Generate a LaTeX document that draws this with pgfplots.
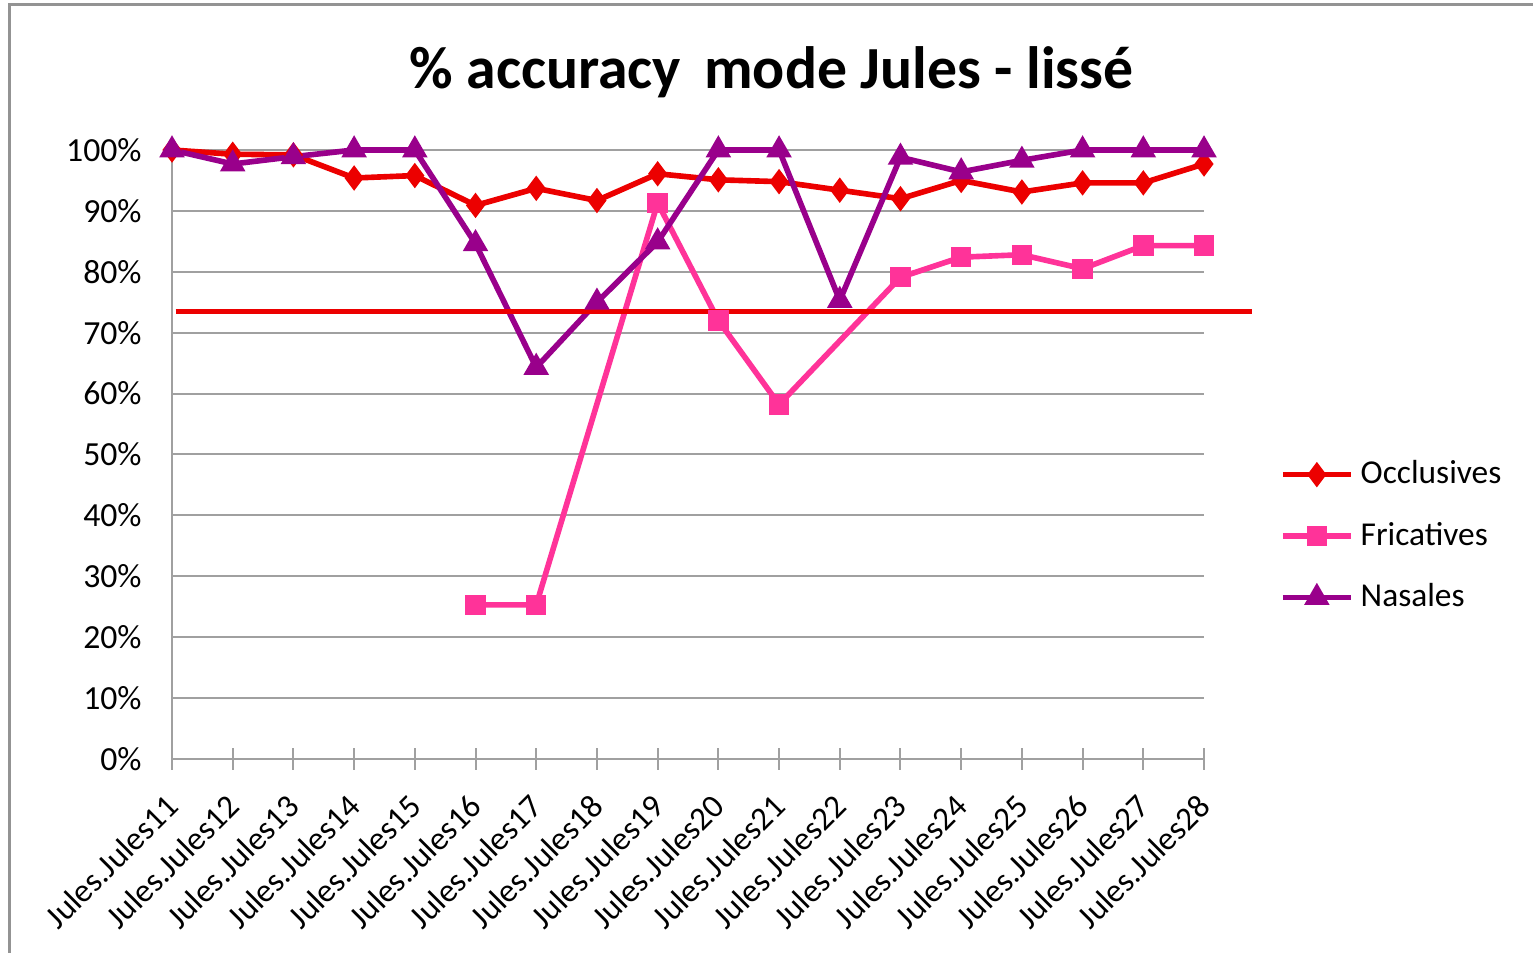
\documentclass[border=0pt]{standalone}
\usepackage{pgfplots}
\pgfplotsset{compat=1.18}
\usepackage{fontspec}
\setmainfont{Carlito}

\definecolor{occl}{RGB}{236,0,0}
\definecolor{fric}{RGB}{255,51,153}
\definecolor{nasa}{RGB}{153,0,139}
\definecolor{gridc}{RGB}{160,160,160}

\begin{document}
\begin{tikzpicture}
\begin{axis}[
    name=ax, at={(0,0)}, anchor=south west,
    scale only axis,
    width=103.2mm, height=60.9mm,
    xmin=0, xmax=17, ymin=0, ymax=100,
    clip=false,
    axis x line=bottom, axis y line=left,
    axis line style={gridc, line width=0.2mm, -},
    xtick={0,...,17},
    xticklabels={Jules.Jules11,Jules.Jules12,Jules.Jules13,Jules.Jules14,Jules.Jules15,Jules.Jules16,Jules.Jules17,Jules.Jules18,Jules.Jules19,Jules.Jules20,Jules.Jules21,Jules.Jules22,Jules.Jules23,Jules.Jules24,Jules.Jules25,Jules.Jules26,Jules.Jules27,Jules.Jules28},
    xticklabel style={yshift=-2.2mm, xshift=0.9mm, rotate=45, anchor=east, font=\fontsize{9.4}{11}\selectfont},
    xtick align=center,
    x tick style={gridc, line width=0.2mm},
    ytick={0,10,...,100},
    yticklabel={\pgfmathprintnumber{\tick}\%},
    yticklabel style={font=\fontsize{9.6}{10}\selectfont, xshift=-0.7mm},
    y tick style={draw=none},
    major tick length=2.2mm,
    ymajorgrids,
    grid style={gridc, line width=0.2mm},
    /pgf/number format/assume math mode=true,
    legend style={at={(1.073,0.366)}, anchor=west, draw=none, fill=none,
        font=\fontsize{9.5}{11}\selectfont, row sep=1.9mm, inner sep=0pt},
    legend cell align=left,
    legend image code/.code={\draw[mark repeat=2,mark phase=2,#1] plot coordinates {(0mm,0mm) (3.4mm,0mm) (6.8mm,0mm)};},
]
\addplot[occl, line width=1.6pt, mark=diamond*, mark size=2.3pt] coordinates {
(0,100) (1,99.3) (2,99.2) (3,95.4) (4,95.8) (5,90.9) (6,93.7) (7,91.7) (8,96.1)
(9,95.1) (10,94.8) (11,93.4) (12,92.0) (13,95.0) (14,93.1) (15,94.6) (16,94.6) (17,97.7)
};
\addlegendentry{Occlusives}
\addplot[fric, line width=1.6pt, mark=square*, mark size=2.1pt] coordinates {
(5,25.3) (6,25.3) (8,91.3) (9,72.0) (10,58.2) (12,79.1) (13,82.4) (14,82.8) (15,80.5) (16,84.3) (17,84.3)
};
\addlegendentry{Fricatives}
\addplot[nasa, line width=1.6pt, mark=triangle*, mark size=2.6pt] coordinates {
(0,100) (1,97.7) (2,98.9) (3,100) (4,100) (5,84.6) (6,64.3) (7,75.0) (8,84.9)
(9,100) (10,100) (11,75.3) (12,98.8) (13,96.4) (14,98.3) (15,100) (16,100) (17,100)
};
\addlegendentry{Nasales}
\addplot[occl, line width=1.4pt, forget plot] coordinates {(0.06,73.5) (17.79,73.5)};
\node[font=\bfseries\fontsize{17}{20}\selectfont] at (rel axis cs:0.581,1.128) {\% accuracy\, mode Jules - lissé};
\end{axis}
\pgfresetboundingbox
\useasboundingbox (-17.2mm,-19.4mm) rectangle (136.1mm,75.9mm);
\draw[gray!85, line width=0.3mm] (-16.2mm,-19.4mm) -- (-16.2mm,75.4mm) -- (136.1mm,75.4mm);
\end{tikzpicture}
\end{document}
